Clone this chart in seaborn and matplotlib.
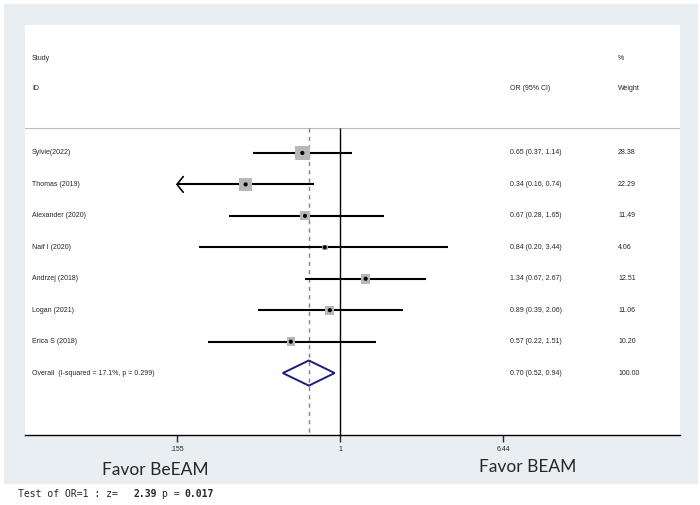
import matplotlib.pyplot as plt
from matplotlib.patches import Rectangle, Polygon
import seaborn as sns
import pandas as pd

# datos del forest plot
estudios = ['Sylvie(2022)', 'Thomas (2019)', 'Alexander (2020)', 'Naif I (2020)',
            'Andrzej (2018)', 'Logan (2021)', 'Erica S (2018)']
or_est = [0.65, 0.34, 0.67, 0.84, 1.34, 0.89, 0.57]
ic_inf = [0.37, 0.16, 0.28, 0.20, 0.67, 0.39, 0.22]
ic_sup = [1.14, 0.74, 1.65, 3.44, 2.67, 2.06, 1.51]
pesos = [28.38, 22.29, 11.49, 4.06, 12.51, 11.06, 10.20]
# IC recortado con flecha (como en Stata)
flecha = [False, True, False, False, False, False, False]

overall_label = 'Overall  (I-squared = 17.1%, p = 0.299)'
overall_or = 0.70
overall_inf = 0.52
overall_sup = 0.94
overall_peso = 100.00

ticks = [0.155, 1, 6.44]
tick_labels = ['.155', '1', '6.44']

df = pd.DataFrame({'estudio': estudios, 'OR': or_est, 'inf': ic_inf,
                   'sup': ic_sup, 'peso': pesos, 'flecha': flecha})
df['fila'] = range(len(df))

sns.set_style("white")
plt.rcParams['font.family'] = ['Liberation Sans', 'DejaVu Sans']

fig = plt.figure(figsize=(7, 5.05), dpi=100)
fondo = Rectangle((4 / 700, 1 - 483 / 505), 693 / 700, 479 / 505,
                  transform=fig.transFigure, color='#e8eef1', zorder=-10)
fig.patches.append(fondo)

ax = fig.add_axes([25 / 700, 1 - 435 / 505, 655 / 700, 410 / 505])
ax.set_zorder(1)
ax.set_facecolor('white')
ax.set_xscale('log')
ax.set_xlim(0.0273, 48.7)
ax.set_ylim(8.97, -4.07)

fila_sep = -0.8
ax.axhline(fila_sep, color='#bbbbbb', lw=0.8)
ax.vlines(1, fila_sep, 8.97, color='black', lw=1.0)
ax.vlines(overall_or, fila_sep, 8.97, color='#c4607c', lw=1.0, linestyles=(0, (3, 3)))

# intervalos de confianza (flecha si se sale del eje)
for _, r in df.iterrows():
    y = r['fila']
    if r['flecha']:
        ax.hlines(y, ticks[0], r['sup'], color='black', lw=1.5)
        # punta de flecha abierta
        ax.plot([ticks[0] * 1.075, ticks[0], ticks[0] * 1.075],
                [y - 0.25, y, y + 0.25], color='black', lw=1.2,
                solid_joinstyle='miter')
    else:
        ax.hlines(y, r['inf'], r['sup'], color='black', lw=1.5)

# cuadrados proporcionales al peso
k = 2.7 * 0.72
sns.scatterplot(data=df, x='OR', y='fila', size='peso',
                sizes=(k ** 2 * min(pesos), k ** 2 * max(pesos)),
                size_norm=(min(pesos), max(pesos)),
                marker='s', color='#b8b8b8', edgecolor='none', legend=False,
                zorder=3, ax=ax)
sns.scatterplot(data=df, x='OR', y='fila', marker='o', s=9, color='black',
                edgecolor='none', legend=False, zorder=4, ax=ax)

# diamante global
fo = len(df)
ax.add_patch(Polygon([(overall_inf, fo), (overall_or, fo - 0.4),
                      (overall_sup, fo), (overall_or, fo + 0.4)],
                     closed=True, fill=False, edgecolor='#1c1c7c', lw=1.4, zorder=4))

# columnas de texto
fs = 5
trans = ax.get_yaxis_transform()
x_id, x_or, x_w = 7 / 655, 485 / 655, 593 / 655
ax.text(x_id, -3.02, 'Study', transform=trans, fontsize=fs, va='center')
ax.text(x_id, -2.04, 'ID', transform=trans, fontsize=fs, va='center')
ax.text(x_w, -3.02, '%', transform=trans, fontsize=fs, va='center')
ax.text(x_or, -2.04, 'OR (95% CI)', transform=trans, fontsize=fs, va='center')
ax.text(x_w, -2.04, 'Weight', transform=trans, fontsize=fs, va='center')
for _, r in df.iterrows():
    ax.text(x_id, r['fila'], r['estudio'], transform=trans, fontsize=fs, va='center')
    ax.text(x_or, r['fila'], f"{r['OR']:.2f} ({r['inf']:.2f}, {r['sup']:.2f})",
            transform=trans, fontsize=fs, va='center')
    ax.text(x_w, r['fila'], f"{r['peso']:.2f}", transform=trans, fontsize=fs, va='center')
ax.text(x_id, fo, overall_label, transform=trans, fontsize=fs, va='center')
ax.text(x_or, fo, f"{overall_or:.2f} ({overall_inf:.2f}, {overall_sup:.2f})",
        transform=trans, fontsize=fs, va='center')
ax.text(x_w, fo, f"{overall_peso:.2f}", transform=trans, fontsize=fs, va='center')

# eje inferior
for s in ['top', 'left', 'right']:
    ax.spines[s].set_visible(False)
ax.spines['bottom'].set_color('black')
ax.spines['bottom'].set_linewidth(1.0)
ax.set_xticks(ticks)
ax.set_xticklabels(tick_labels)
ax.minorticks_off()
ax.tick_params(axis='x', direction='out', length=5, width=1, labelsize=5,
               bottom=True, pad=3)
ax.set_yticks([])
ax.set_xlabel('')
ax.set_ylabel('')

fig.text(155 / 700, 1 - 470 / 505, 'Favor BeEAM', fontsize=12.5, family='Lato',
         ha='center', va='center')
fig.text(528 / 700, 1 - 467 / 505, 'Favor BEAM', fontsize=12.5, family='Lato',
         ha='center', va='center')

# linea del test en monoespaciada
cw = 5.75
y_t = 1 - 494 / 505
fig.text(18 / 700, y_t, 'Test of OR=1 : z=', fontsize=7,
         family='DejaVu Sans Mono', va='center')
fig.text((18 + 20 * cw) / 700, y_t, '2.39', fontsize=7,
         family='DejaVu Sans Mono', fontweight='bold', va='center')
fig.text((18 + 25 * cw) / 700, y_t, 'p =', fontsize=7,
         family='DejaVu Sans Mono', va='center')
fig.text((18 + 29 * cw) / 700, y_t, '0.017', fontsize=7,
         family='DejaVu Sans Mono', fontweight='bold', va='center')

plt.savefig('out.png', dpi=100)
plt.close()
